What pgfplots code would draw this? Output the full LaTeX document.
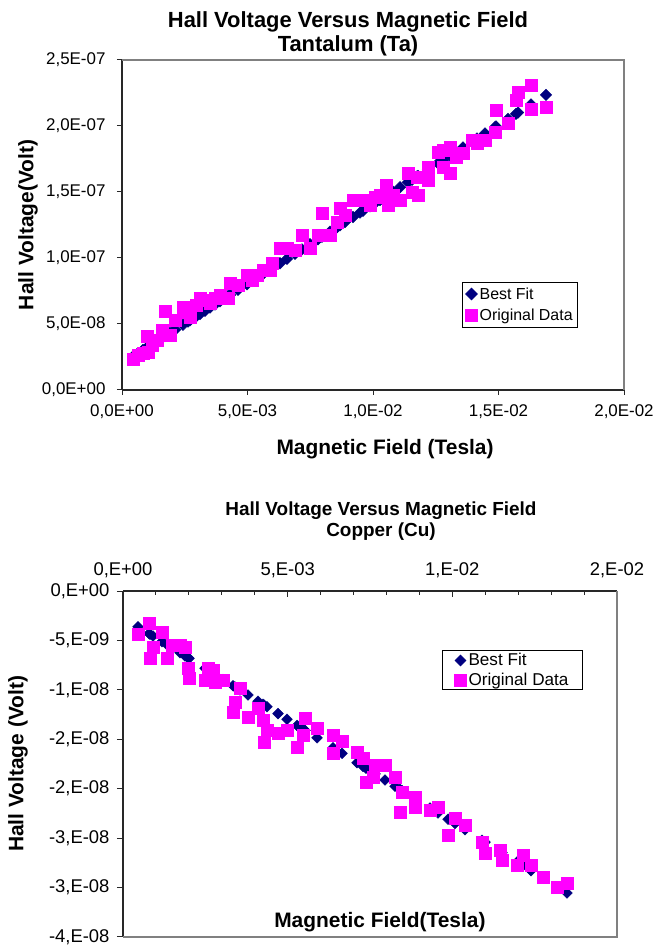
\documentclass[border=0pt]{standalone}
\usepackage{fontspec}
\setmainfont{Liberation Sans}
\usepackage{pgfplots}
\pgfplotsset{compat=1.18}
\definecolor{fitnavy}{RGB}{0,0,128}
\definecolor{datamag}{RGB}{255,0,255}
\definecolor{framegray}{RGB}{128,128,128}
\definecolor{axisdark}{RGB}{40,40,40}
\begin{document}
\begin{tikzpicture}
\useasboundingbox (0bp,0bp) rectangle (656bp,946bp);
% ---------------- Top chart: Tantalum ----------------
\node[font=\fontsize{22}{22}\selectfont\bfseries, anchor=base] at (348bp,918bp) {Hall Voltage Versus Magnetic Field};
\node[font=\fontsize{22}{22}\selectfont\bfseries, anchor=base] at (348bp,894bp) {Tantalum (Ta)};
\begin{axis}[
  at={(122bp,556bp)}, anchor=south west, scale only axis,
  width=502bp, height=330bp,
  xmin=0, xmax=0.02, ymin=0, ymax=2.5e-7,
  axis lines*=left,
  axis line style={draw=axisdark, line width=1.3bp},
  clip=false,
  xtick={0,0.005,0.01,0.015,0.02},
  xticklabels={{0,0E+00},{5,0E-03},{1,0E-02},{1,5E-02},{2,0E-02}},
  ytick={0,5e-8,1e-7,1.5e-7,2e-7,2.5e-7},
  yticklabels={{0,0E+00},{5,0E-08},{1,0E-07},{1,5E-07},{2,0E-07},{2,5E-07}},
  scaled ticks=false,
  tick align=outside, major tick length=5bp,
  tick style={draw=axisdark, line width=1bp},
  ticklabel style={font=\fontsize{17}{17}\selectfont},
  yticklabel style={xshift=-8bp},
  xticklabel style={yshift=-6bp},
  xlabel={Magnetic Field (Tesla)},
  xlabel style={font=\fontsize{21}{21}\selectfont\bfseries, at={(axis description cs:0.524,-0.178)}, anchor=center},
  ylabel={Hall Voltage(Volt)},
  ylabel style={font=\fontsize{21}{21}\selectfont\bfseries, at={(axis description cs:-0.187,0.5)}, anchor=center},
  legend style={at={(0.677,0.327)}, anchor=north west, draw=black, line width=0.8bp,
    font=\fontsize{16}{16}\selectfont, inner xsep=3bp, inner ysep=3bp, row sep=4.5bp},
  legend cell align=left,
]
\addplot[only marks, mark=square*, mark options={rotate=45}, mark size=4.1bp, color=fitnavy] coordinates {
(0.438e-3,2.547e-8) (0.637e-3,2.787e-8) (0.837e-3,3.028e-8) (0.996e-3,3.219e-8)
(1.036e-3,3.267e-8) (1.195e-3,3.459e-8) (1.394e-3,3.698e-8) (1.594e-3,3.939e-8)
(1.713e-3,4.082e-8) (1.912e-3,4.322e-8) (2.112e-3,4.563e-8) (2.430e-3,4.946e-8)
(2.629e-3,5.185e-8) (2.709e-3,5.282e-8) (2.948e-3,5.569e-8) (3.108e-3,5.762e-8)
(3.307e-3,6.002e-8) (3.506e-3,6.241e-8) (3.705e-3,6.481e-8) (3.904e-3,6.720e-8)
(4.223e-3,7.104e-8) (4.303e-3,7.201e-8) (4.622e-3,7.585e-8) (4.980e-3,8.016e-8)
(5.179e-3,8.256e-8) (5.378e-3,8.495e-8) (5.618e-3,8.784e-8) (5.896e-3,9.119e-8)
(5.976e-3,9.215e-8) (6.295e-3,9.599e-8) (6.574e-3,9.935e-8) (6.892e-3,10.318e-8)
(7.171e-3,10.654e-8) (7.490e-3,11.038e-8) (7.809e-3,11.422e-8) (7.968e-3,11.613e-8)
(8.287e-3,11.998e-8) (8.566e-3,12.333e-8) (8.685e-3,12.477e-8) (8.884e-3,12.716e-8)
(9.203e-3,13.100e-8) (9.482e-3,13.436e-8) (9.602e-3,13.581e-8) (9.880e-3,13.915e-8)
(10.080e-3,14.156e-8) (10.279e-3,14.396e-8) (10.518e-3,14.684e-8) (10.598e-3,14.780e-8)
(10.797e-3,15.020e-8) (11.076e-3,15.356e-8) (11.394e-3,15.738e-8) (11.554e-3,15.931e-8)
(11.753e-3,16.171e-8) (11.793e-3,16.219e-8) (12.191e-3,16.698e-8) (12.590e-3,17.178e-8)
(12.789e-3,17.418e-8) (13.068e-3,17.754e-8) (13.307e-3,18.042e-8) (13.586e-3,18.378e-8)
(13.944e-3,18.809e-8) (14.143e-3,19.048e-8) (14.462e-3,19.432e-8) (14.861e-3,19.913e-8)
(14.900e-3,19.960e-8) (15.378e-3,20.535e-8) (15.697e-3,20.919e-8) (15.777e-3,21.016e-8)
(16.295e-3,21.639e-8) (16.892e-3,22.358e-8)
};
\addlegendentry{Best Fit}
\addplot[only marks, mark=square*, mark size=6.2bp, color=datamag] coordinates {
(0.438e-3,2.35e-8) (0.637e-3,2.65e-8) (0.837e-3,2.80e-8) (1.036e-3,2.88e-8)
(0.996e-3,4.09e-8) (1.195e-3,3.41e-8) (1.394e-3,3.79e-8) (1.594e-3,4.55e-8)
(1.713e-3,5.98e-8) (1.912e-3,4.17e-8) (2.112e-3,5.30e-8) (2.430e-3,6.29e-8)
(2.629e-3,5.91e-8) (2.709e-3,5.53e-8) (2.948e-3,6.44e-8) (3.108e-3,6.97e-8)
(3.307e-3,6.82e-8) (3.506e-3,6.59e-8) (3.705e-3,6.97e-8) (3.904e-3,7.20e-8)
(4.223e-3,6.97e-8) (4.303e-3,8.11e-8) (4.622e-3,7.95e-8) (4.980e-3,8.71e-8)
(5.179e-3,8.33e-8) (5.378e-3,8.71e-8) (5.618e-3,9.09e-8) (5.896e-3,9.09e-8)
(5.976e-3,9.62e-8) (6.295e-3,10.76e-8) (6.574e-3,10.76e-8) (6.892e-3,10.61e-8)
(7.171e-3,11.74e-8) (7.490e-3,10.76e-8) (7.809e-3,11.74e-8) (7.968e-3,13.41e-8)
(8.287e-3,11.74e-8) (8.566e-3,12.73e-8) (8.685e-3,13.79e-8) (8.884e-3,13.26e-8)
(9.203e-3,14.39e-8) (9.482e-3,14.39e-8) (9.602e-3,14.39e-8) (9.880e-3,14.02e-8)
(10.080e-3,14.62e-8) (10.279e-3,14.77e-8) (10.518e-3,15.53e-8) (10.598e-3,14.02e-8)
(10.797e-3,14.77e-8) (11.076e-3,14.39e-8) (11.394e-3,16.44e-8) (11.554e-3,15.00e-8)
(11.793e-3,14.77e-8) (11.753e-3,16.14e-8) (12.191e-3,15.91e-8) (12.191e-3,16.89e-8)
(12.590e-3,18.03e-8) (12.789e-3,16.89e-8) (12.789e-3,18.18e-8) (13.068e-3,18.41e-8)
(13.068e-3,16.44e-8) (13.307e-3,17.65e-8) (13.586e-3,17.95e-8) (13.944e-3,18.94e-8)
(14.143e-3,18.71e-8) (14.462e-3,18.94e-8) (14.861e-3,19.55e-8) (14.900e-3,21.21e-8)
(15.378e-3,20.23e-8) (15.697e-3,21.97e-8) (15.777e-3,22.58e-8) (16.295e-3,23.11e-8)
(16.295e-3,21.29e-8) (16.892e-3,21.44e-8)
};
\addlegendentry{Original Data}
\draw[framegray, line width=1.3bp] (rel axis cs:0,1) -- (rel axis cs:1,1) -- (rel axis cs:1,0);
\end{axis}
% ---------------- Bottom chart: Copper ----------------
\node[font=\fontsize{19}{19}\selectfont\bfseries, anchor=base] at (381bp,430bp) {Hall Voltage Versus Magnetic Field};
\node[font=\fontsize{19}{19}\selectfont\bfseries, anchor=base] at (381bp,409bp) {Copper (Cu)};
\begin{axis}[
  at={(123bp,9bp)}, anchor=south west, scale only axis,
  width=494bp, height=346bp,
  xmin=0, xmax=0.015, ymin=-3.5e-8, ymax=0,
  axis x line*=top, axis y line*=left,
  axis line style={draw=axisdark, line width=1.3bp},
  clip=false,
  xtick={0,0.005,0.01,0.015},
  xticklabels={{0,E+00},{5,E-03},{1,E-02},{2,E-02}},
  minor x tick num=4,
  ytick={-3.5e-8,-3e-8,-2.5e-8,-2e-8,-1.5e-8,-1e-8,-5e-9,0},
  yticklabels={{-4,E-08},{-3,E-08},{-3,E-08},{-2,E-08},{-2,E-08},{-1,E-08},{-5,E-09},{0,E+00}},
  scaled ticks=false,
  tick align=inside, major tick length=6bp, minor tick length=4bp,
  tick style={draw=axisdark, line width=1bp},
  y tick style={xshift=-6bp},
  ticklabel style={font=\fontsize{18.5}{18.5}\selectfont},
  yticklabel style={xshift=-10bp},
  xticklabel style={yshift=10bp},
  xlabel={Magnetic Field(Tesla)},
  xlabel style={font=\fontsize{21}{21}\selectfont\bfseries, at={(axis description cs:0.520,0.043)}, anchor=center},
  ylabel={Hall Voltage (Volt)},
  ylabel style={font=\fontsize{21}{21}\selectfont\bfseries, at={(axis description cs:-0.2126,0.5)}, anchor=center},
  legend style={at={(0.646,0.829)}, anchor=north west, draw=black, line width=0.8bp,
    font=\fontsize{17.2}{17.2}\selectfont, inner xsep=12bp, inner ysep=1bp, row sep=1.5bp},
  legend cell align=left,
]
\addplot[only marks, mark=square*, mark options={rotate=45}, mark size=3.8bp, color=fitnavy] coordinates {
(0.456e-3,-3.613e-9) (0.790e-3,-4.304e-9) (0.820e-3,-4.366e-9) (0.911e-3,-4.554e-9)
(1.184e-3,-5.119e-9) (1.336e-3,-5.433e-9) (1.488e-3,-5.747e-9) (1.731e-3,-6.250e-9)
(1.883e-3,-6.564e-9) (1.974e-3,-6.752e-9) (2.004e-3,-6.814e-9) (2.490e-3,-7.819e-9)
(2.581e-3,-8.008e-9) (2.733e-3,-8.322e-9) (2.794e-3,-8.448e-9) (3.037e-3,-8.951e-9)
(3.340e-3,-9.577e-9) (3.401e-3,-9.703e-9) (3.553e-3,-10.018e-9) (3.796e-3,-10.520e-9)
(4.100e-3,-11.149e-9) (4.251e-3,-11.461e-9) (4.282e-3,-11.525e-9) (4.373e-3,-11.713e-9)
(4.707e-3,-12.404e-9) (4.980e-3,-12.969e-9) (5.284e-3,-13.597e-9) (5.466e-3,-13.974e-9)
(5.527e-3,-14.100e-9) (5.891e-3,-14.853e-9) (6.377e-3,-15.858e-9) (6.650e-3,-16.422e-9)
(7.106e-3,-17.365e-9) (7.288e-3,-17.742e-9) (7.379e-3,-17.930e-9) (7.592e-3,-18.370e-9)
(7.653e-3,-18.496e-9) (7.956e-3,-19.123e-9) (8.260e-3,-19.752e-9) (8.412e-3,-20.066e-9)
(8.472e-3,-20.190e-9) (8.867e-3,-21.007e-9) (9.323e-3,-21.950e-9) (9.566e-3,-22.452e-9)
(9.870e-3,-23.081e-9) (10.082e-3,-23.520e-9) (10.386e-3,-24.148e-9) (10.902e-3,-25.215e-9)
(10.993e-3,-25.403e-9) (11.449e-3,-26.347e-9) (11.509e-3,-26.471e-9) (11.965e-3,-27.414e-9)
(12.147e-3,-27.790e-9) (12.390e-3,-28.293e-9) (12.754e-3,-29.045e-9) (13.179e-3,-29.924e-9)
(13.483e-3,-30.553e-9)
};
\addlegendentry{Best Fit}
\addplot[only marks, mark=square*, mark size=6bp, color=datamag] coordinates {
(0.456e-3,-4.35e-9) (0.790e-3,-3.24e-9) (0.820e-3,-6.78e-9) (0.911e-3,-5.66e-9)
(1.184e-3,-4.15e-9) (1.336e-3,-6.78e-9) (1.488e-3,-5.46e-9) (1.731e-3,-5.46e-9)
(1.883e-3,-5.66e-9) (1.974e-3,-7.79e-9) (2.004e-3,-8.80e-9) (2.490e-3,-9.00e-9)
(2.581e-3,-7.79e-9) (2.733e-3,-7.99e-9) (2.794e-3,-9.20e-9) (3.037e-3,-9.00e-9)
(3.340e-3,-12.24e-9) (3.401e-3,-11.23e-9) (3.553e-3,-9.81e-9) (3.796e-3,-12.75e-9)
(4.100e-3,-11.83e-9) (4.251e-3,-13.05e-9) (4.282e-3,-15.27e-9) (4.373e-3,-14.06e-9)
(4.707e-3,-14.36e-9) (4.980e-3,-14.06e-9) (5.284e-3,-15.78e-9) (5.466e-3,-14.57e-9)
(5.527e-3,-12.85e-9) (5.891e-3,-13.86e-9) (6.377e-3,-14.57e-9) (6.377e-3,-16.39e-9)
(6.650e-3,-15.17e-9) (7.106e-3,-16.29e-9) (7.288e-3,-16.89e-9) (7.379e-3,-19.32e-9)
(7.592e-3,-18.81e-9) (7.653e-3,-17.60e-9) (7.956e-3,-17.60e-9) (8.260e-3,-18.81e-9)
(8.412e-3,-22.35e-9) (8.472e-3,-20.33e-9) (8.867e-3,-20.84e-9) (8.867e-3,-21.85e-9)
(9.323e-3,-22.15e-9) (9.566e-3,-21.85e-9) (9.870e-3,-24.68e-9) (10.082e-3,-22.96e-9)
(10.386e-3,-23.67e-9) (10.902e-3,-25.39e-9) (10.993e-3,-26.50e-9) (11.449e-3,-26.20e-9)
(11.509e-3,-27.21e-9) (11.965e-3,-27.72e-9) (12.147e-3,-26.70e-9) (12.390e-3,-27.72e-9)
(12.754e-3,-28.93e-9) (13.179e-3,-29.94e-9) (13.483e-3,-29.54e-9)
};
\addlegendentry{Original Data}
\draw[framegray, line width=1.3bp] (rel axis cs:0,0) -- (rel axis cs:1,0) -- (rel axis cs:1,1);
\end{axis}
\end{tikzpicture}
\end{document}
